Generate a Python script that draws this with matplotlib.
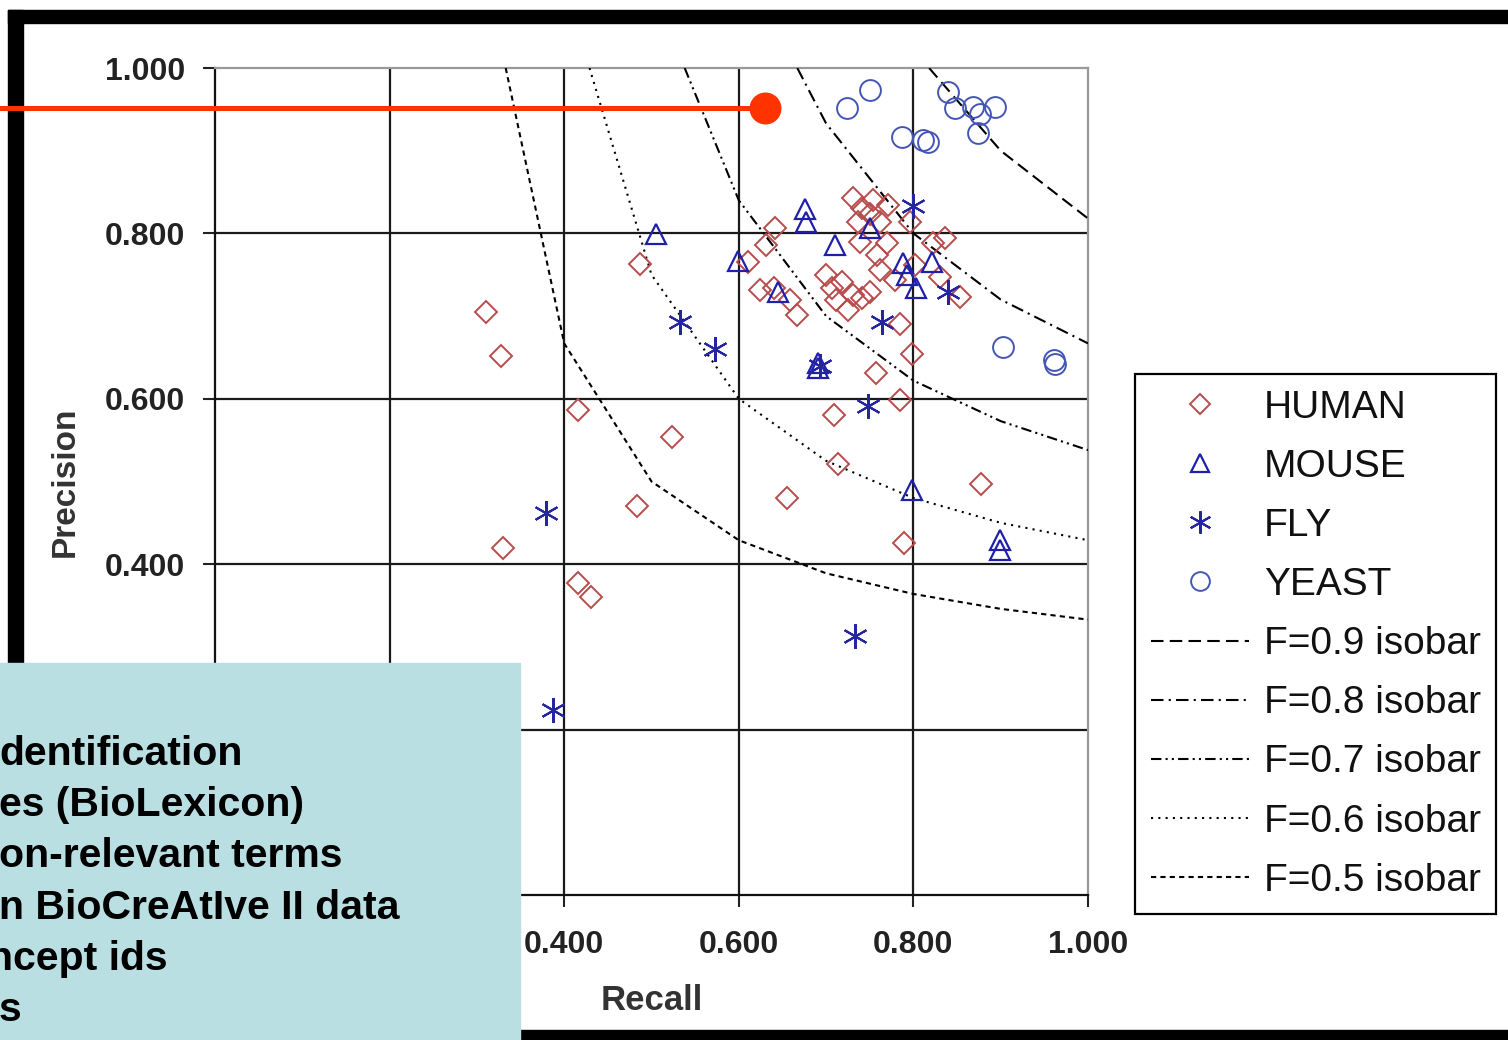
import matplotlib
matplotlib.use("Agg")
import matplotlib.pyplot as plt
from matplotlib.lines import Line2D
from matplotlib.patches import Rectangle

plt.rcParams["font.family"] = ["Liberation Sans", "DejaVu Sans"]

# =========================
# DATA
# =========================

human_recall = [0.310, 0.328, 0.330, 0.416, 0.416, 0.431, 0.487, 0.483, 0.523,
                0.655, 0.714, 0.709, 0.757, 0.785, 0.798, 0.789, 0.877, 0.785,
                0.611, 0.631, 0.641, 0.624, 0.640, 0.659, 0.667, 0.700, 0.707,
                0.711, 0.725, 0.741, 0.750, 0.731, 0.741, 0.754, 0.771, 0.737,
                0.750, 0.739, 0.762, 0.770, 0.758, 0.762, 0.796, 0.822, 0.836,
                0.853, 0.830, 0.802, 0.779, 0.731, 0.718]
human_precision = [0.705, 0.652, 0.420, 0.586, 0.377, 0.360, 0.763, 0.470, 0.554,
                   0.480, 0.521, 0.580, 0.631, 0.599, 0.654, 0.426, 0.497, 0.690,
                   0.765, 0.786, 0.807, 0.732, 0.734, 0.719, 0.701, 0.750, 0.734,
                   0.719, 0.707, 0.722, 0.729, 0.843, 0.831, 0.840, 0.834, 0.814,
                   0.823, 0.790, 0.814, 0.788, 0.774, 0.756, 0.814, 0.788, 0.794,
                   0.723, 0.747, 0.762, 0.744, 0.726, 0.741]

mouse_recall = [0.505, 0.599, 0.676, 0.677, 0.710, 0.645, 0.691, 0.798, 0.899,
                0.899, 0.750, 0.788, 0.793, 0.803, 0.821, 0.691]
mouse_precision = [0.799, 0.767, 0.830, 0.814, 0.786, 0.729, 0.637, 0.490, 0.429,
                   0.417, 0.807, 0.764, 0.750, 0.734, 0.765, 0.643]

fly_recall = [0.533, 0.573, 0.379, 0.387, 0.733, 0.748, 0.693, 0.764, 0.800, 0.840]
fly_precision = [0.693, 0.660, 0.462, 0.224, 0.313, 0.591, 0.640, 0.693, 0.833, 0.729]

yeast_recall = [0.750, 0.724, 0.787, 0.811, 0.817, 0.840, 0.848, 0.868, 0.876,
                0.893, 0.874, 0.903, 0.961, 0.962]
yeast_precision = [0.973, 0.952, 0.917, 0.913, 0.911, 0.971, 0.952, 0.953, 0.944,
                   0.953, 0.921, 0.663, 0.647, 0.642]

# isobar knots (recall, precision)
iso09_recall = [0.818, 0.9, 1.0]
iso09_precision = [1.0, 0.900, 0.818]
iso08_recall = [0.667, 0.7, 0.8, 0.9, 1.0]
iso08_precision = [1.0, 0.933, 0.800, 0.720, 0.667]
iso07_recall = [0.538, 0.6, 0.7, 0.8, 0.9, 1.0]
iso07_precision = [1.0, 0.840, 0.700, 0.622, 0.573, 0.538]
iso06_recall = [0.429, 0.5, 0.6, 0.7, 0.8, 0.9, 1.0]
iso06_precision = [1.0, 0.750, 0.600, 0.525, 0.480, 0.450, 0.429]
iso05_recall = [0.333, 0.4, 0.5, 0.6, 0.7, 0.8, 0.9, 1.0]
iso05_precision = [1.0, 0.667, 0.500, 0.429, 0.389, 0.364, 0.346, 0.333]

axis_ticks = [0.0, 0.2, 0.4, 0.6, 0.8, 1.0]
# the two lowest labels sit under the slide's text box
x_tick_labels = ["", "", "0.400", "0.600", "0.800", "1.000"]
y_tick_labels = ["", "", "0.400", "0.600", "0.800", "1.000"]

note_lines = [
    "dentification",
    "es (BioLexicon)",
    "on-relevant terms",
    "n BioCreAtIve II data",
    "ncept ids",
    "s",
]

# =========================
# FIGURE
# =========================

W, H = 1508, 1040


def fx(px):
    return px / W


def fy(py):
    return 1 - py / H


fig = plt.figure(figsize=(W / 100, H / 100), dpi=100)
fig.patch.set_facecolor("white")

ax = fig.add_axes([fx(215), fy(895), (1088 - 215) / W, (895 - 68) / H])

# isobars
ax.plot(iso09_recall, iso09_precision, color="black", lw=1.5, dashes=(6, 3),
        label="F=0.9 isobar", zorder=3)
ax.plot(iso08_recall, iso08_precision, color="black", lw=1.5,
        dashes=(6, 2.5, 1, 2.5), label="F=0.8 isobar", zorder=3)
ax.plot(iso07_recall, iso07_precision, color="black", lw=1.5,
        dashes=(5, 2, 1, 2, 1, 2), label="F=0.7 isobar", zorder=3)
ax.plot(iso06_recall, iso06_precision, color="black", lw=1.5, dashes=(1, 2.5),
        label="F=0.6 isobar", zorder=3)
ax.plot(iso05_recall, iso05_precision, color="black", lw=1.5, dashes=(2.5, 2),
        label="F=0.5 isobar", zorder=3)

# organisms
ax.plot(human_recall, human_precision, linestyle="none", marker="D", ms=11,
        mfc="none", mec="#B84B4B", mew=1.4, label="HUMAN", zorder=4)
ax.plot(mouse_recall, mouse_precision, linestyle="none", marker="^", ms=14,
        mfc="none", mec="#1F1FA8", mew=1.6, label="MOUSE", zorder=4)
ax.plot(fly_recall, fly_precision, linestyle="none", marker=(6, 2, 0), ms=18,
        mfc="none", mec="#2525A0", mew=1.5, label="FLY", zorder=4)
ax.plot(yeast_recall, yeast_precision, linestyle="none", marker="o", ms=15,
        mfc="none", mec="#4455B5", mew=1.4, label="YEAST", zorder=4)

ax.set_xlim(0, 1)
ax.set_ylim(0, 1)

for t in axis_ticks[1:-1]:
    ax.axvline(t, color="#1a1a1a", lw=1.6, zorder=1)
    ax.axhline(t, color="#1a1a1a", lw=1.6, zorder=1)

ax.set_xticks(axis_ticks)
ax.set_yticks(axis_ticks)
ax.set_xticklabels(x_tick_labels, fontsize=23, fontweight="bold",
                   color="#222222")
ax.set_yticklabels(y_tick_labels, fontsize=23, fontweight="bold",
                   color="#222222")
ax.tick_params(axis="both", direction="out", length=8.5, width=1.5,
               color="#222222")
ax.tick_params(axis="x", pad=17)
ax.tick_params(axis="y", pad=13)

for side in ["left", "bottom"]:
    ax.spines[side].set_color("#111111")
    ax.spines[side].set_linewidth(1.6)
for side in ["top", "right"]:
    ax.spines[side].set_color("#999999")
    ax.spines[side].set_linewidth(1.6)

ax.set_xlabel("Recall", fontsize=25, fontweight="bold", color="#333333")
ax.xaxis.label.set_va("center")
ax.xaxis.set_label_coords(0.5, (895 - 1000) / 827)
ax.set_ylabel("Precision", fontsize=24, fontweight="bold", color="#333333")
ax.yaxis.label.set_va("center")
ax.yaxis.set_label_coords((65 - 215) / 873, 0.5)

# legend: markers first, then isobars
handles, labels = ax.get_legend_handles_labels()
order = [5, 6, 7, 8, 0, 1, 2, 3, 4]
leg = fig.legend([handles[i] for i in order], [labels[i] for i in order],
                 loc="upper left", bbox_to_anchor=(fx(1135), fy(374)),
                 bbox_transform=fig.transFigure, borderaxespad=0,
                 fontsize=28, handlelength=2.52, handletextpad=0.39,
                 borderpad=0.4, labelspacing=0.595, markerscale=0.9,
                 fancybox=False, framealpha=1, edgecolor="black")
leg.get_frame().set_linewidth(1.6)
for txt in leg.get_texts():
    txt.set_color("#111111")

# =========================
# SLIDE DECORATION
# =========================

fig.patches.append(Rectangle((fx(8), fy(23)), 1 - fx(8), 13 / H,
                             transform=fig.transFigure, color="black",
                             zorder=5))
fig.patches.append(Rectangle((fx(8), 0), 15 / W, fy(10),
                             transform=fig.transFigure, color="black",
                             zorder=5))
fig.patches.append(Rectangle((0, 0), 1, 10 / H,
                             transform=fig.transFigure, color="black",
                             zorder=5))

fig.lines.append(Line2D([0, fx(765)], [fy(108), fy(108)],
                        transform=fig.transFigure, color="#FF3300", lw=3.6,
                        marker="o", ms=22, markevery=[1], zorder=6))

fig.patches.append(Rectangle((0, 0), fx(520), (1040 - 663) / H,
                             transform=fig.transFigure, color="#BADFE3",
                             zorder=7))

for i, line in enumerate(note_lines):
    x0 = -12 if line.startswith("ncept") else -1
    fig.text(fx(x0), fy(765 + 51.2 * i), line, fontsize=29.5,
             fontweight="bold", color="black", ha="left", va="baseline",
             zorder=8)

fig.savefig("out.png", dpi=100)
